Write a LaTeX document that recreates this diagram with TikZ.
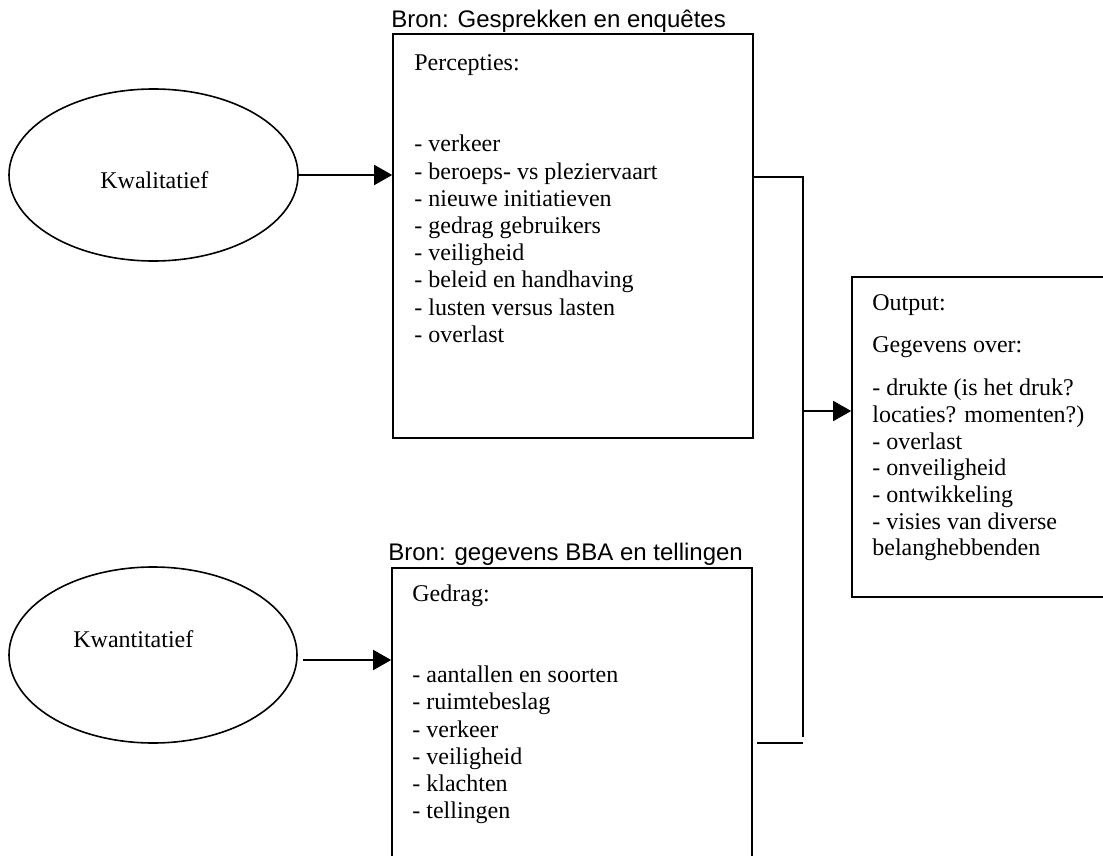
\documentclass[tikz,border=0pt]{standalone}
\usepackage{fontspec}
\setmainfont{Liberation Serif}
\setsansfont{Liberation Sans}
\usetikzlibrary{arrows.meta, positioning, shapes.geometric}

\begin{document}
\begin{tikzpicture}[
        x=0.5pt, y=-0.5pt,
        oval/.style={
            draw,
            ellipse,
            line width=0.8pt,
            inner sep=0pt
        },
        framebox/.style={
            draw,
            line width=0.8pt,
            inner sep=0pt
        },
        boxtext/.style={
            inner sep=0pt,
            align=left,
            anchor=north west,
            font=\fontsize{12}{13.6}\selectfont
        },
        sourcetext/.style={
            inner sep=0pt,
            anchor=base west,
            font=\sffamily\fontsize{12}{14}\selectfont
        },
        ovaltext/.style={
            inner sep=0pt,
            anchor=base west,
            font=\fontsize{12}{14}\selectfont
        },
        link/.style={line width=0.8pt},
        flow/.style={-{Triangle[length=9pt, width=10pt]}, line width=0.8pt}
    ]
        \useasboundingbox (0,0) rectangle (1103,856);

        \node[oval, minimum width=144.5pt, minimum height=86pt] (kwal) at (153.5,175) {};
        \node[ovaltext] (kwaltext) at (100,189) {Kwalitatief};
        \node[oval, minimum width=144pt, minimum height=88pt] (kwant) at (153,655) {};
        \node[ovaltext] (kwanttext) at (73,647) {Kwantitatief};

        \node[framebox, minimum width=180pt, minimum height=202pt] (percbox) at (573,236) {};
        \node[sourcetext] (percsource) at (391,28) {Bron: Gesprekken en enqu\^etes};
        \node[boxtext] (perctext) at (414,54) {Percepties:\\[27.2pt]
            - verkeer\\
            - beroeps- vs pleziervaart\\
            - nieuwe initiatieven\\
            - gedrag gebruikers\\
            - veiligheid\\
            - beleid en handhaving\\
            - lusten versus lasten\\
            - overlast};

        \node[framebox, minimum width=180pt, minimum height=151pt] (gedragbox) at (572,719) {};
        \node[sourcetext] (gedragsource) at (388,560) {Bron: gegevens BBA en tellingen};
        \node[boxtext] (gedragtext) at (412,584) {Gedrag:\\[27.2pt]
            - aantallen en soorten\\
            - ruimtebeslag\\
            - verkeer\\
            - veiligheid\\
            - klachten\\
            - tellingen};

        \node[framebox, minimum width=128pt, minimum height=160pt] (outbox) at (980,437) {};
        \node[boxtext, font=\fontsize{12}{13.35}\selectfont] (outtext) at (872,294) {Output:\\[8pt]
            Gegevens over:\\[8pt]
            - drukte (is het druk?\\
            locaties? momenten?)\\
            - overlast\\
            - onveiligheid\\
            - ontwikkeling\\
            - visies van diverse\\
            belanghebbenden};

        \coordinate (kwantout) at (303,660);
        \coordinate (jointop) at (803,177);
        \coordinate (joinbottom) at (803,737);
        \coordinate (gedragout) at (757,743);
        \coordinate (joinlow) at (803,743);
        \coordinate (joinmid) at (803,411);

        \draw[flow] (kwal.east) -- (kwal.east -| percbox.west);
        \draw[flow] (kwantout) -- (kwantout -| gedragbox.west);
        \draw[link] (percbox.east |- jointop) -- (jointop) -- (joinbottom);
        \draw[link] (gedragout) -- (joinlow);
        \draw[flow] (joinmid) -- (joinmid -| outbox.west);
    \end{tikzpicture}
\end{document}
